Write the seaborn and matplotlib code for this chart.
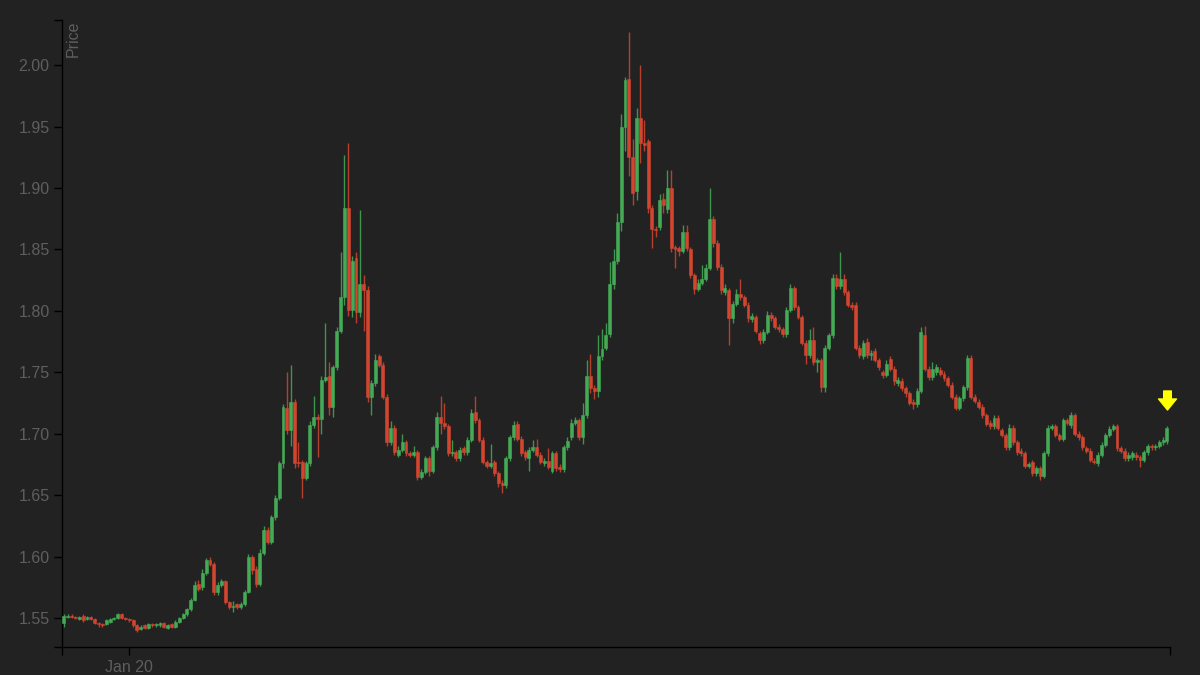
import numpy as np
import pandas as pd
import matplotlib
matplotlib.use("Agg")
import matplotlib.pyplot as plt
import seaborn as sns
from matplotlib.path import Path
from matplotlib.transforms import ScaledTranslation

# 5-minute candles, one entry per candle
opens = [
    1.546, 1.551, 1.552, 1.551, 1.549, 1.552, 1.549, 1.551, 1.549, 1.546, 1.545, 1.545,
    1.547, 1.549, 1.550, 1.553, 1.550, 1.549, 1.548, 1.544, 1.541, 1.544, 1.542, 1.545,
    1.544, 1.544, 1.546, 1.542, 1.545, 1.543, 1.547, 1.550, 1.553, 1.557, 1.565, 1.578,
    1.575, 1.587, 1.597, 1.594, 1.571, 1.577, 1.580, 1.563, 1.559, 1.561, 1.559, 1.561,
    1.571, 1.600, 1.590, 1.578, 1.603, 1.622, 1.612, 1.632, 1.648, 1.676, 1.721, 1.703,
    1.726, 1.677, 1.677, 1.664, 1.676, 1.707, 1.714, 1.712, 1.744, 1.747, 1.722, 1.754,
    1.784, 1.811, 1.884, 1.801, 1.843, 1.799, 1.822, 1.817, 1.730, 1.741, 1.763, 1.756,
    1.730, 1.693, 1.705, 1.683, 1.687, 1.693, 1.684, 1.683, 1.685, 1.665, 1.669, 1.680,
    1.670, 1.689, 1.714, 1.709, 1.706, 1.684, 1.685, 1.680, 1.688, 1.685, 1.695, 1.718,
    1.711, 1.695, 1.677, 1.674, 1.677, 1.668, 1.660, 1.658, 1.680, 1.697, 1.708, 1.696,
    1.685, 1.680, 1.687, 1.689, 1.683, 1.676, 1.678, 1.670, 1.684, 1.673, 1.671, 1.689,
    1.697, 1.709, 1.711, 1.697, 1.715, 1.747, 1.737, 1.735, 1.763, 1.770, 1.781, 1.822,
    1.841, 1.872, 1.950, 1.989, 1.925, 1.898, 1.957, 1.937, 1.938, 1.884, 1.867, 1.868,
    1.891, 1.883, 1.900, 1.852, 1.851, 1.849, 1.864, 1.850, 1.829, 1.818, 1.823, 1.826,
    1.835, 1.875, 1.855, 1.836, 1.815, 1.817, 1.794, 1.806, 1.814, 1.811, 1.805, 1.793,
    1.795, 1.782, 1.776, 1.783, 1.797, 1.794, 1.787, 1.785, 1.781, 1.801, 1.819, 1.803,
    1.795, 1.774, 1.764, 1.776, 1.758, 1.760, 1.738, 1.770, 1.780, 1.827, 1.820, 1.826,
    1.815, 1.805, 1.805, 1.770, 1.763, 1.775, 1.764, 1.767, 1.760, 1.750, 1.748, 1.761,
    1.753, 1.741, 1.743, 1.737, 1.733, 1.726, 1.724, 1.735, 1.780, 1.753, 1.746, 1.750,
    1.752, 1.749, 1.745, 1.740, 1.730, 1.721, 1.729, 1.738, 1.762, 1.730, 1.726, 1.722,
    1.715, 1.709, 1.706, 1.713, 1.703, 1.699, 1.689, 1.705, 1.693, 1.686, 1.684, 1.674,
    1.677, 1.668, 1.672, 1.666, 1.684, 1.705, 1.706, 1.699, 1.696, 1.711, 1.707, 1.715,
    1.700, 1.697, 1.688, 1.686, 1.678, 1.676, 1.683, 1.691, 1.699, 1.704, 1.706, 1.688,
    1.686, 1.680, 1.681, 1.683, 1.681, 1.679, 1.685, 1.690, 1.689, 1.690, 1.693, 1.694,
]
closes = [
    1.552, 1.552, 1.551, 1.550, 1.551, 1.548, 1.551, 1.549, 1.546, 1.545, 1.544, 1.548,
    1.549, 1.550, 1.553, 1.550, 1.549, 1.548, 1.544, 1.540, 1.543, 1.542, 1.545, 1.544,
    1.545, 1.546, 1.543, 1.544, 1.543, 1.547, 1.550, 1.553, 1.557, 1.565, 1.577, 1.574,
    1.587, 1.597, 1.594, 1.571, 1.577, 1.580, 1.563, 1.559, 1.560, 1.559, 1.561, 1.571,
    1.600, 1.589, 1.578, 1.603, 1.622, 1.612, 1.632, 1.648, 1.676, 1.722, 1.703, 1.726,
    1.676, 1.676, 1.664, 1.676, 1.707, 1.714, 1.712, 1.744, 1.746, 1.722, 1.754, 1.784,
    1.811, 1.884, 1.801, 1.841, 1.799, 1.822, 1.817, 1.730, 1.741, 1.760, 1.756, 1.730,
    1.693, 1.705, 1.685, 1.687, 1.693, 1.684, 1.683, 1.685, 1.665, 1.669, 1.680, 1.670,
    1.689, 1.714, 1.709, 1.706, 1.684, 1.685, 1.680, 1.687, 1.685, 1.695, 1.717, 1.711,
    1.695, 1.677, 1.674, 1.676, 1.668, 1.660, 1.658, 1.680, 1.697, 1.707, 1.696, 1.684,
    1.681, 1.687, 1.689, 1.683, 1.677, 1.678, 1.673, 1.684, 1.672, 1.671, 1.689, 1.694,
    1.709, 1.711, 1.697, 1.715, 1.747, 1.737, 1.735, 1.763, 1.769, 1.780, 1.822, 1.841,
    1.872, 1.950, 1.988, 1.925, 1.896, 1.957, 1.937, 1.935, 1.884, 1.867, 1.866, 1.890,
    1.886, 1.900, 1.851, 1.850, 1.849, 1.864, 1.851, 1.829, 1.818, 1.823, 1.826, 1.835,
    1.875, 1.855, 1.836, 1.817, 1.819, 1.794, 1.806, 1.814, 1.811, 1.805, 1.794, 1.796,
    1.784, 1.776, 1.783, 1.797, 1.794, 1.787, 1.785, 1.781, 1.801, 1.819, 1.803, 1.795,
    1.774, 1.764, 1.776, 1.758, 1.760, 1.738, 1.770, 1.780, 1.827, 1.820, 1.826, 1.815,
    1.805, 1.803, 1.770, 1.764, 1.774, 1.764, 1.766, 1.760, 1.754, 1.748, 1.757, 1.753,
    1.743, 1.744, 1.737, 1.733, 1.725, 1.724, 1.735, 1.783, 1.753, 1.746, 1.753, 1.754,
    1.749, 1.745, 1.740, 1.730, 1.721, 1.729, 1.738, 1.762, 1.730, 1.727, 1.722, 1.715,
    1.708, 1.706, 1.713, 1.705, 1.699, 1.689, 1.705, 1.693, 1.685, 1.684, 1.674, 1.675,
    1.668, 1.672, 1.666, 1.684, 1.705, 1.706, 1.699, 1.696, 1.711, 1.709, 1.715, 1.700,
    1.697, 1.689, 1.686, 1.679, 1.677, 1.683, 1.691, 1.699, 1.704, 1.706, 1.688, 1.686,
    1.680, 1.683, 1.684, 1.681, 1.679, 1.685, 1.690, 1.689, 1.690, 1.693, 1.695, 1.705,
]
highs = [
    1.553, 1.553, 1.553, 1.552, 1.552, 1.553, 1.552, 1.552, 1.550, 1.547, 1.546, 1.549,
    1.550, 1.551, 1.554, 1.554, 1.551, 1.550, 1.549, 1.545, 1.544, 1.545, 1.546, 1.546,
    1.546, 1.547, 1.547, 1.545, 1.546, 1.548, 1.551, 1.554, 1.558, 1.566, 1.580, 1.581,
    1.590, 1.599, 1.600, 1.596, 1.579, 1.582, 1.581, 1.564, 1.564, 1.562, 1.563, 1.573,
    1.602, 1.601, 1.592, 1.606, 1.625, 1.624, 1.634, 1.650, 1.678, 1.724, 1.750, 1.756,
    1.728, 1.693, 1.679, 1.678, 1.710, 1.731, 1.716, 1.747, 1.790, 1.758, 1.756, 1.787,
    1.848, 1.927, 1.937, 1.845, 1.848, 1.882, 1.829, 1.820, 1.744, 1.765, 1.765, 1.758,
    1.732, 1.710, 1.707, 1.690, 1.700, 1.695, 1.686, 1.690, 1.687, 1.671, 1.682, 1.682,
    1.691, 1.718, 1.731, 1.725, 1.708, 1.695, 1.687, 1.689, 1.690, 1.697, 1.720, 1.731,
    1.713, 1.697, 1.679, 1.692, 1.679, 1.670, 1.662, 1.682, 1.699, 1.710, 1.710, 1.698,
    1.687, 1.689, 1.695, 1.696, 1.685, 1.680, 1.688, 1.686, 1.686, 1.675, 1.691, 1.697,
    1.712, 1.714, 1.713, 1.725, 1.760, 1.765, 1.740, 1.780, 1.785, 1.790, 1.840, 1.850,
    1.880, 1.960, 1.990, 2.027, 1.940, 1.965, 2.000, 1.955, 1.940, 1.886, 1.869, 1.895,
    1.896, 1.915, 1.915, 1.854, 1.853, 1.870, 1.870, 1.852, 1.831, 1.826, 1.837, 1.838,
    1.900, 1.877, 1.858, 1.838, 1.822, 1.819, 1.808, 1.818, 1.826, 1.813, 1.807, 1.798,
    1.797, 1.784, 1.785, 1.800, 1.799, 1.796, 1.789, 1.787, 1.803, 1.822, 1.820, 1.805,
    1.797, 1.776, 1.785, 1.787, 1.762, 1.762, 1.772, 1.782, 1.830, 1.830, 1.848, 1.830,
    1.817, 1.807, 1.807, 1.772, 1.776, 1.778, 1.768, 1.770, 1.762, 1.752, 1.760, 1.763,
    1.755, 1.746, 1.745, 1.739, 1.735, 1.728, 1.737, 1.787, 1.788, 1.755, 1.758, 1.757,
    1.754, 1.751, 1.747, 1.742, 1.732, 1.731, 1.740, 1.764, 1.764, 1.732, 1.728, 1.724,
    1.717, 1.711, 1.715, 1.715, 1.705, 1.701, 1.708, 1.707, 1.695, 1.688, 1.686, 1.677,
    1.679, 1.674, 1.674, 1.686, 1.707, 1.708, 1.708, 1.701, 1.713, 1.713, 1.718, 1.717,
    1.702, 1.699, 1.690, 1.688, 1.680, 1.685, 1.693, 1.701, 1.706, 1.708, 1.708, 1.690,
    1.688, 1.685, 1.686, 1.685, 1.683, 1.687, 1.692, 1.692, 1.692, 1.695, 1.697, 1.706,
]
lows = [
    1.543, 1.550, 1.550, 1.549, 1.548, 1.547, 1.548, 1.548, 1.545, 1.543, 1.543, 1.544,
    1.546, 1.548, 1.549, 1.549, 1.548, 1.547, 1.543, 1.539, 1.540, 1.541, 1.541, 1.543,
    1.543, 1.543, 1.542, 1.541, 1.542, 1.542, 1.546, 1.549, 1.552, 1.556, 1.564, 1.572,
    1.573, 1.585, 1.592, 1.569, 1.569, 1.575, 1.561, 1.557, 1.555, 1.557, 1.557, 1.560,
    1.570, 1.586, 1.575, 1.576, 1.601, 1.610, 1.610, 1.630, 1.646, 1.672, 1.700, 1.690,
    1.672, 1.673, 1.648, 1.662, 1.674, 1.705, 1.681, 1.700, 1.742, 1.715, 1.714, 1.752,
    1.782, 1.805, 1.796, 1.795, 1.790, 1.795, 1.784, 1.726, 1.715, 1.739, 1.754, 1.728,
    1.690, 1.691, 1.683, 1.681, 1.685, 1.682, 1.681, 1.681, 1.662, 1.663, 1.667, 1.666,
    1.668, 1.687, 1.700, 1.704, 1.682, 1.682, 1.678, 1.678, 1.683, 1.683, 1.693, 1.709,
    1.693, 1.675, 1.672, 1.672, 1.666, 1.657, 1.652, 1.656, 1.678, 1.695, 1.694, 1.682,
    1.679, 1.670, 1.685, 1.681, 1.675, 1.674, 1.671, 1.668, 1.670, 1.669, 1.669, 1.687,
    1.695, 1.707, 1.695, 1.692, 1.713, 1.733, 1.728, 1.730, 1.760, 1.768, 1.779, 1.818,
    1.838, 1.865, 1.930, 1.910, 1.886, 1.890, 1.920, 1.930, 1.880, 1.851, 1.860, 1.866,
    1.880, 1.880, 1.848, 1.835, 1.845, 1.847, 1.849, 1.827, 1.814, 1.816, 1.821, 1.824,
    1.833, 1.852, 1.833, 1.814, 1.813, 1.772, 1.790, 1.804, 1.809, 1.803, 1.791, 1.791,
    1.782, 1.773, 1.774, 1.781, 1.792, 1.785, 1.783, 1.779, 1.779, 1.799, 1.801, 1.793,
    1.772, 1.757, 1.762, 1.756, 1.750, 1.734, 1.734, 1.768, 1.778, 1.818, 1.818, 1.813,
    1.803, 1.801, 1.768, 1.762, 1.761, 1.762, 1.760, 1.758, 1.752, 1.745, 1.746, 1.751,
    1.740, 1.739, 1.735, 1.730, 1.723, 1.720, 1.722, 1.733, 1.751, 1.744, 1.744, 1.748,
    1.747, 1.743, 1.738, 1.728, 1.719, 1.719, 1.727, 1.736, 1.728, 1.725, 1.720, 1.713,
    1.706, 1.704, 1.704, 1.703, 1.697, 1.687, 1.687, 1.691, 1.683, 1.682, 1.672, 1.672,
    1.666, 1.666, 1.662, 1.664, 1.682, 1.703, 1.697, 1.694, 1.694, 1.707, 1.705, 1.698,
    1.695, 1.687, 1.684, 1.677, 1.675, 1.674, 1.681, 1.689, 1.697, 1.702, 1.686, 1.684,
    1.678, 1.678, 1.679, 1.679, 1.673, 1.677, 1.683, 1.687, 1.687, 1.688, 1.691, 1.692,
]

price_ticks = [1.55, 1.60, 1.65, 1.70, 1.75, 1.80, 1.85, 1.90, 1.95, 2.00]
date_ticks = [17]          # candle index where the day changes
date_labels = ["Jan 20"]

assert len(opens) == len(closes) == len(highs) == len(lows)

df = pd.DataFrame({"open": opens, "high": highs, "low": lows, "close": closes})
df["x"] = np.arange(len(df))
df["up"] = df["close"] >= df["open"]

BG = "#222222"
GREEN = "#44aa55"
RED = "#d2452f"
TXT = "#5e5e5e"

sns.set_theme(style="dark", rc={
    "axes.facecolor": BG,
    "figure.facecolor": BG,
    "axes.edgecolor": "black",
    "axes.linewidth": 1.0,
    "xtick.color": "black",
    "ytick.color": "black",
    "xtick.bottom": True,
    "ytick.left": True,
})
plt.rcParams["font.family"] = ["Liberation Sans", "DejaVu Sans"]

fig = plt.figure(figsize=(12, 6.75), dpi=100)
ax = fig.add_axes([62 / 1200, 28 / 675, 1108 / 1200, 627 / 675])

colors = np.where(df["up"], GREEN, RED)

# wicks
ax.vlines(df["x"], df["low"], df["high"], colors=colors, linewidth=1.0, alpha=0.85, zorder=2)
# bodies
ax.bar(df["x"], df["close"] - df["open"], bottom=df["open"], width=0.76,
       color=colors, edgecolor=colors, linewidth=0.4, zorder=3)

ax.set_xlim(-0.5, len(df) - 0.2)
ax.set_ylim(1.5264, 2.0368)

ax.set_yticks(price_ticks)
ax.set_yticklabels([f"{v:.2f}" for v in price_ticks])
ax.set_xticks(date_ticks)
ax.set_xticklabels(date_labels)
# d3-style outer ticks at the ends of each axis
ax.set_xticks([-0.5, len(df) - 0.2], minor=True)
ax.set_yticks([1.5264, 2.0368], minor=True)

ax.tick_params(axis="both", which="both", direction="out", length=6, width=1,
               color="black", labelcolor=TXT, labelsize=11.5, pad=3)
ax.grid(False)
for side in ["top", "right"]:
    ax.spines[side].set_visible(False)
for side in ["left", "bottom"]:
    ax.spines[side].set_color("black")

ax.text(0.003, 0.999, "Price", rotation=90, transform=ax.transAxes,
        ha="left", va="top", color=TXT, fontsize=11.5)

# yellow "latest" arrow above the last candle
arrow = Path([(-0.2, 0.5), (0.2, 0.5), (0.2, 0.08), (0.47, 0.08), (0.0, -0.5),
              (-0.47, 0.08), (-0.2, 0.08), (-0.2, 0.5)],
             [Path.MOVETO] + [Path.LINETO] * 6 + [Path.CLOSEPOLY])
last = df.iloc[-1]
ax.plot([last["x"]], [last["high"]], marker=arrow, markersize=13.7, color="#ffff00",
        linestyle="none", clip_on=False, zorder=5,
        transform=ax.transData + ScaledTranslation(0, 0.265, fig.dpi_scale_trans))

fig.savefig("out.png", dpi=100, facecolor=BG)
